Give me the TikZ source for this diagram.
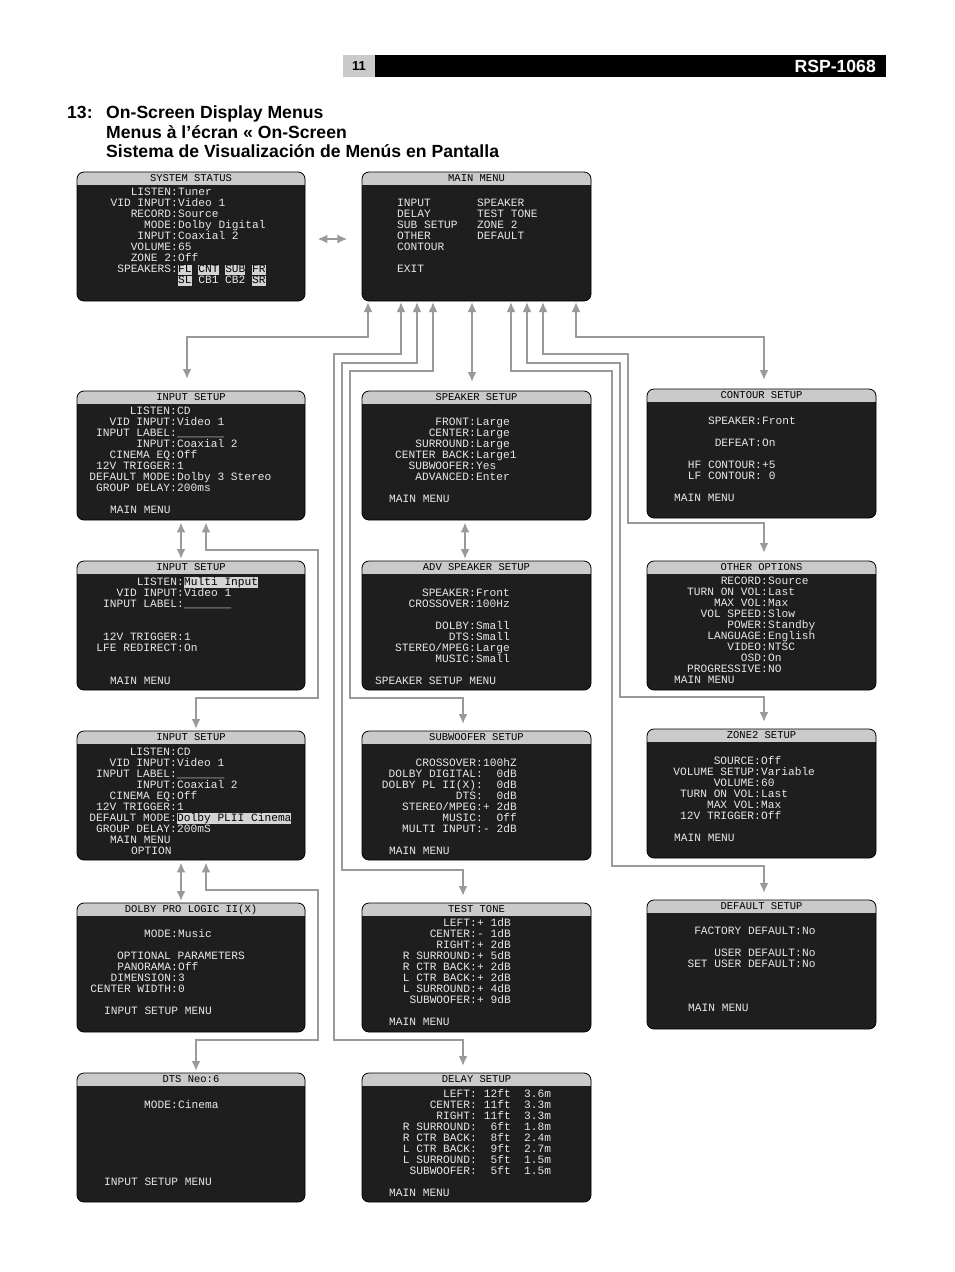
\documentclass[tikz,border=0pt]{standalone}
\usepackage{fontspec}
\setmainfont{Liberation Sans}
\newfontfamily\osd{Liberation Mono}
\usetikzlibrary{arrows.meta}
\definecolor{boxbg}{HTML}{1E1E1E}
\definecolor{hdrgray}{HTML}{CACACA}
\definecolor{osdtxt}{HTML}{E8E8E8}
\definecolor{hlgray}{HTML}{D4D4D4}
\definecolor{conncol}{HTML}{9A9A9A}
\tikzset{
  osdt/.style={font=\osd\fontsize{11.2}{13}\selectfont, text=osdtxt, inner sep=0pt},
  osdh/.style={font=\osd\fontsize{10.5}{12}\selectfont, text=black, inner sep=0pt},
  conn/.style={draw=conncol, line width=2.6pt, {Latex[length=10pt,width=9pt]}-{Latex[length=10pt,width=9pt]}},
  hdrtxt/.style={font=\bfseries\fontsize{17.6}{20}\selectfont, inner sep=0pt, anchor=base west},
}
\newcommand\hil[1]{{\fboxsep=0pt\colorbox{hlgray}{\rule[-2.5pt]{0pt}{10.5pt}\textcolor{black}{#1}}}}
\newcommand\kv[4]{%
  \node[osdt,anchor=base east] at (#1,{#2+3.5}) {#3:};
  \node[osdt,anchor=base west] at (#1,{#2+3.5}) {#4};}
\newcommand\tleft[3]{\node[osdt,anchor=base west] at (#1,{#2+3.5}) {#3};}
\newcommand\osdbox[5]{%
  \fill[boxbg,rounded corners=7pt] (#2,#3) rectangle ++(#4,129);
  \begin{scope}\clip (#2,#3) rectangle ++(#4,12.5);
  \fill[hdrgray,rounded corners=7pt] (#2,#3) rectangle ++(#4,129);\end{scope}
  \draw[black,line width=0.8pt,rounded corners=7pt] (#2,#3) rectangle ++(#4,129);
  \node[inner sep=0pt,minimum width=#4pt,minimum height=129pt,anchor=north west] (#1) at (#2,#3) {};
  \node[osdh] at ({#2+#4/2},{#3+6.5}) {#5};}
\begin{document}
\begin{tikzpicture}[x=1pt,y=-1pt]
\fill[white] (0,0) rectangle (954,1272);
\useasboundingbox (0,0) rectangle (954,1272);
% page header
\fill[black] (375,55) rectangle (886,77);
\fill[hdrgray] (343,55) rectangle (375,77);
\node[font=\bfseries\fontsize{13}{15}\selectfont] (pg) at (359,66.5) {11};
\node[font=\bfseries\fontsize{17.6}{20}\selectfont,text=white,anchor=east,inner sep=0pt] (model) at (876,66) {RSP-1068};
\node[hdrtxt] (tn) at (67,118) {13:};
\node[hdrtxt] (t1) at (106,118) {On-Screen Display Menus};
\node[hdrtxt] (t2) at (106,138) {Menus à l’écran « On-Screen};
\node[hdrtxt] (t3) at (106,157) {Sistema de Visualización de Menús en Pantalla};

% ---------- boxes
\osdbox{sys}{77}{172}{228}{SYSTEM STATUS}
\kv{178}{192}{LISTEN}{Tuner}
\kv{178}{203}{VID INPUT}{Video 1}
\kv{178}{214}{RECORD}{Source}
\kv{178}{225}{MODE}{Dolby Digital}
\kv{178}{236}{INPUT}{Coaxial 2}
\kv{178}{247}{VOLUME}{65}
\kv{178}{258}{ZONE 2}{Off}
\kv{178}{269}{SPEAKERS}{\hil{FL} \hil{CNT} \hil{SUB} \hil{FR}}
\tleft{178}{280}{\hil{SL} CB1 CB2 \hil{SR}}

\osdbox{mm}{362}{172}{229}{MAIN MENU}
\tleft{397}{203}{INPUT}\tleft{477}{203}{SPEAKER}
\tleft{397}{214}{DELAY}\tleft{477}{214}{TEST TONE}
\tleft{397}{225}{SUB SETUP}\tleft{477}{225}{ZONE 2}
\tleft{397}{236}{OTHER}\tleft{477}{236}{DEFAULT}
\tleft{397}{247}{CONTOUR}
\tleft{397}{269}{EXIT}

\osdbox{in1}{77}{391}{228}{INPUT SETUP}
\kv{177}{411}{LISTEN}{CD}
\kv{177}{422}{VID INPUT}{Video 1}
\kv{177}{433}{INPUT LABEL}{\_\_\_\_\_\_\_}
\kv{177}{444}{INPUT}{Coaxial 2}
\kv{177}{455}{CINEMA EQ}{Off}
\kv{177}{466}{12V TRIGGER}{1}
\kv{177}{477}{DEFAULT MODE}{Dolby 3 Stereo}
\kv{177}{488}{GROUP DELAY}{200ms}
\tleft{110}{510}{MAIN MENU}

\osdbox{in2}{77}{561}{228}{INPUT SETUP}
\kv{184}{582}{LISTEN}{\hil{Multi Input}}
\kv{184}{593}{VID INPUT}{Video 1}
\kv{184}{604}{INPUT LABEL}{\_\_\_\_\_\_\_}
\kv{184}{637}{12V TRIGGER}{1}
\kv{184}{648}{LFE REDIRECT}{On}
\tleft{110}{681}{MAIN MENU}

\osdbox{in3}{77}{731}{228}{INPUT SETUP}
\kv{177}{752}{LISTEN}{CD}
\kv{177}{763}{VID INPUT}{Video 1}
\kv{177}{774}{INPUT LABEL}{\_\_\_\_\_\_\_}
\kv{177}{785}{INPUT}{Coaxial 2}
\kv{177}{796}{CINEMA EQ}{Off}
\kv{177}{807}{12V TRIGGER}{1}
\kv{177}{818}{DEFAULT MODE}{\hil{Dolby PLII Cinema}}
\kv{177}{829}{GROUP DELAY}{200mS}
\tleft{110}{840}{MAIN MENU}
\tleft{131}{851}{OPTION}

\osdbox{dpl}{77}{903}{228}{DOLBY PRO LOGIC II(X)}
\kv{178}{934}{MODE}{Music}
\tleft{117}{956}{OPTIONAL PARAMETERS}
\kv{178}{967}{PANORAMA}{Off}
\kv{178}{978}{DIMENSION}{3}
\kv{178}{989}{CENTER WIDTH}{0}
\tleft{104}{1011}{INPUT SETUP MENU}

\osdbox{dts}{77}{1073}{228}{DTS Neo:6}
\kv{178}{1105}{MODE}{Cinema}
\tleft{104}{1182}{INPUT SETUP MENU}

\osdbox{spk}{362}{391}{229}{SPEAKER SETUP}
\kv{476}{422}{FRONT}{Large}
\kv{476}{433}{CENTER}{Large}
\kv{476}{444}{SURROUND}{Large}
\kv{476}{455}{CENTER BACK}{Large1}
\kv{476}{466}{SUBWOOFER}{Yes}
\kv{476}{477}{ADVANCED}{Enter}
\tleft{389}{499}{MAIN MENU}

\osdbox{adv}{362}{561}{229}{ADV SPEAKER SETUP}
\kv{476}{593}{SPEAKER}{Front}
\kv{476}{604}{CROSSOVER}{100Hz}
\kv{476}{626}{DOLBY}{Small}
\kv{476}{637}{DTS}{Small}
\kv{476}{648}{STEREO/MPEG}{Large}
\kv{476}{659}{MUSIC}{Small}
\tleft{375}{681}{SPEAKER SETUP MENU}

\osdbox{sub}{362}{731}{229}{SUBWOOFER SETUP}
\kv{483}{763}{CROSSOVER}{100hZ}
\kv{483}{774}{DOLBY DIGITAL}{~~0dB}
\kv{483}{785}{DOLBY PL II(X)}{~~0dB}
\kv{483}{796}{DTS}{~~0dB}
\kv{483}{807}{STEREO/MPEG}{+ 2dB}
\kv{483}{818}{MUSIC}{~~Off}
\kv{483}{829}{MULTI INPUT}{- 2dB}
\tleft{389}{851}{MAIN MENU}

\osdbox{tt}{362}{903}{229}{TEST TONE}
\kv{477}{923}{LEFT}{+ 1dB}
\kv{477}{934}{CENTER}{- 1dB}
\kv{477}{945}{RIGHT}{+ 2dB}
\kv{477}{956}{R SURROUND}{+ 5dB}
\kv{477}{967}{R CTR BACK}{+ 2dB}
\kv{477}{978}{L CTR BACK}{+ 2dB}
\kv{477}{989}{L SURROUND}{+ 4dB}
\kv{477}{1000}{SUBWOOFER}{+ 9dB}
\tleft{389}{1022}{MAIN MENU}

\osdbox{dly}{362}{1073}{229}{DELAY SETUP}
\kv{477}{1094}{LEFT}{~12ft~~3.6m}
\kv{477}{1105}{CENTER}{~11ft~~3.3m}
\kv{477}{1116}{RIGHT}{~11ft~~3.3m}
\kv{477}{1127}{R SURROUND}{~~6ft~~1.8m}
\kv{477}{1138}{R CTR BACK}{~~8ft~~2.4m}
\kv{477}{1149}{L CTR BACK}{~~9ft~~2.7m}
\kv{477}{1160}{L SURROUND}{~~5ft~~1.5m}
\kv{477}{1171}{SUBWOOFER}{~~5ft~~1.5m}
\tleft{389}{1193}{MAIN MENU}

\osdbox{cnt}{647}{389}{229}{CONTOUR SETUP}
\kv{762}{421}{SPEAKER}{Front}
\kv{762}{443}{DEFEAT}{On}
\kv{762}{465}{HF CONTOUR}{+5}
\kv{762}{476}{LF CONTOUR}{~0}
\tleft{674}{498}{MAIN MENU}

\osdbox{oth}{647}{561}{229}{OTHER OPTIONS}
\kv{768}{581}{RECORD}{Source}
\kv{768}{592}{TURN ON VOL}{Last}
\kv{768}{603}{MAX VOL}{Max}
\kv{768}{614}{VOL SPEED}{Slow}
\kv{768}{625}{POWER}{Standby}
\kv{768}{636}{LANGUAGE}{English}
\kv{768}{647}{VIDEO}{NTSC}
\kv{768}{658}{OSD}{On}
\kv{768}{669}{PROGRESSIVE}{NO}
\tleft{674}{680}{MAIN MENU}

\osdbox{zn}{647}{729}{229}{ZONE2 SETUP}
\kv{761}{761}{SOURCE}{Off}
\kv{761}{772}{VOLUME SETUP}{Variable}
\kv{761}{783}{VOLUME}{60}
\kv{761}{794}{TURN ON VOL}{Last}
\kv{761}{805}{MAX VOL}{Max}
\kv{761}{816}{12V TRIGGER}{Off}
\tleft{674}{838}{MAIN MENU}

\osdbox{dft}{647}{900}{229}{DEFAULT SETUP}
\kv{802}{931}{FACTORY DEFAULT}{No}
\kv{802}{953}{USER DEFAULT}{No}
\kv{802}{964}{SET USER DEFAULT}{No}
\tleft{688}{1008}{MAIN MENU}

% ---------- connectors
\draw[conn] (sys.east |- 0,239) ++(12,0) -- ++(30,0);
\draw[conn] (in1.north -| 187,0) ++(0,-12) -- (187,337) -- (368,337) -- (368,302);
\draw[conn] (dly.north -| 463,0) ++(0,-7) -- (463,1040) -- (334,1040) -- (334,354) -- (401,354) -- (401,302);
\draw[conn] (tt.north -| 463,0) ++(0,-7) -- (463,870) -- (342,870) -- (342,363) -- (417,363) -- (417,302);
\draw[conn] (sub.north -| 463,0) ++(0,-7) -- (463,698) -- (350,698) -- (350,371) -- (433,371) -- (433,302);
\draw[conn] (spk.north -| 472,0) ++(0,-9) -- (472,302);
\draw[conn] (dft.north -| 764,0) ++(0,-7) -- (764,866) -- (612,866) -- (612,371) -- (511,371) -- (511,302);
\draw[conn] (zn.north -| 764,0) ++(0,-7) -- (764,697) -- (620,697) -- (620,363) -- (527,363) -- (527,302);
\draw[conn] (oth.north -| 764,0) ++(0,-8) -- (764,523) -- (628,523) -- (628,354) -- (543,354) -- (543,302);
\draw[conn] (cnt.north -| 764,0) ++(0,-9) -- (764,337) -- (576,337) -- (576,302);
\draw[conn] (in1.south -| 181,0) ++(0,2) -- (181,559);
\draw[conn] (in1.south -| 206,0) ++(0,2) -- (206,550) -- (318,550) -- (318,698) -- (196,698) -- (196,729);
\draw[conn] (in3.south -| 181,0) ++(0,2) -- (181,901);
\draw[conn] (in3.south -| 206,0) ++(0,2) -- (206,890) -- (318,890) -- (318,1040) -- (196,1040) -- (196,1071);
\draw[conn] (spk.south -| 465,0) ++(0,2) -- (465,559);
\end{tikzpicture}
\end{document}
